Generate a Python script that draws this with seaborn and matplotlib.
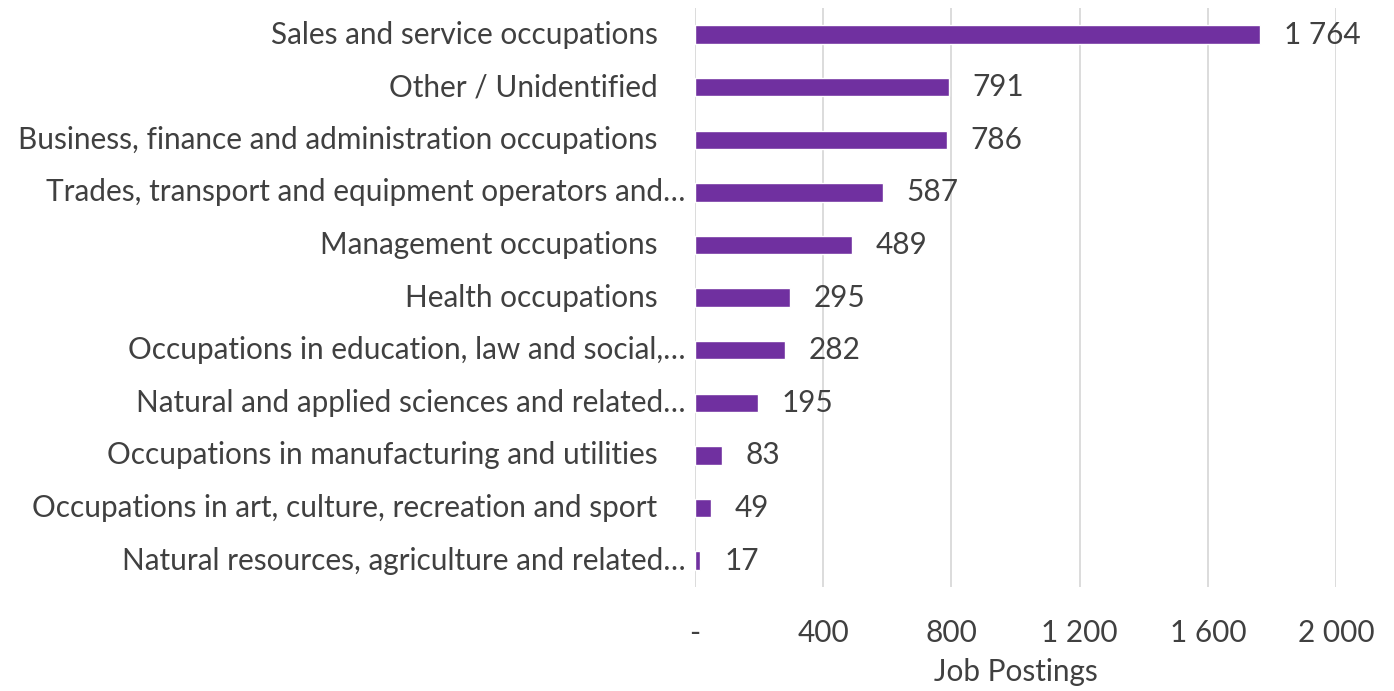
import matplotlib
matplotlib.use("Agg")
import matplotlib.pyplot as plt
import matplotlib.transforms as mtransforms
import pandas as pd
import seaborn as sns

occupations = [
    "Sales and service occupations",
    "Other / Unidentified",
    "Business, finance and administration occupations",
    "Trades, transport and equipment operators and…",
    "Management occupations",
    "Health occupations",
    "Occupations in education, law and social,…",
    "Natural and applied sciences and related…",
    "Occupations in manufacturing and utilities",
    "Occupations in art, culture, recreation and sport",
    "Natural resources, agriculture and related…",
]
postings = [1764, 791, 786, 587, 489, 295, 282, 195, 83, 49, 17]
x_ticks = [0, 400, 800, 1200, 1600, 2000]
x_ticklabels = ["-", "400", "800", "1 200", "1 600", "2 000"]

TEXT = "#404040"
BAR = "#7030A0"
GRID = "#D9D9D9"
FS = 21.4

sns.set_style("white")
plt.rcParams["font.family"] = ["Lato", "DejaVu Sans"]

df = pd.DataFrame({"occupation": occupations, "postings": postings})

fig = plt.figure(figsize=(13.94, 6.91), dpi=100)
ax = fig.add_axes([0.4986, 0.1505, 0.4598, 0.8375])

sns.barplot(data=df, x="postings", y="occupation", order=occupations,
            color=BAR, saturation=1, width=0.35, ax=ax)

ax.set_xlim(0, 2000)
ax.set_xticks(x_ticks)
ax.set_xticklabels(x_ticklabels, fontsize=FS, color=TEXT)
ax.tick_params(axis="x", length=0, pad=23)
ax.tick_params(axis="y", length=0)
ax.set_yticklabels([])
ax.set_ylabel("")
ax.set_xlabel("Job Postings", fontsize=FS, color=TEXT, labelpad=8)

ax.grid(axis="x", color=GRID, linewidth=1.3)
ax.set_axisbelow(True)
for s in ax.spines.values():
    s.set_visible(False)

# category labels: full names sit further from the axis than the truncated ones
trans = mtransforms.blended_transform_factory(ax.transAxes, ax.transData)
for i, lab in enumerate(occupations):
    shift = -7 if lab.endswith("…") else -27
    t = mtransforms.offset_copy(trans, fig=fig, x=shift, y=0, units="points")
    ax.text(0, i, lab, transform=t, ha="right", va="center",
            fontsize=FS, color=TEXT)

ax.bar_label(ax.containers[0],
             labels=[f"{v:,}".replace(",", " ") for v in postings],
             padding=17, fontsize=FS, color=TEXT)

fig.savefig("out.png", dpi=100)
